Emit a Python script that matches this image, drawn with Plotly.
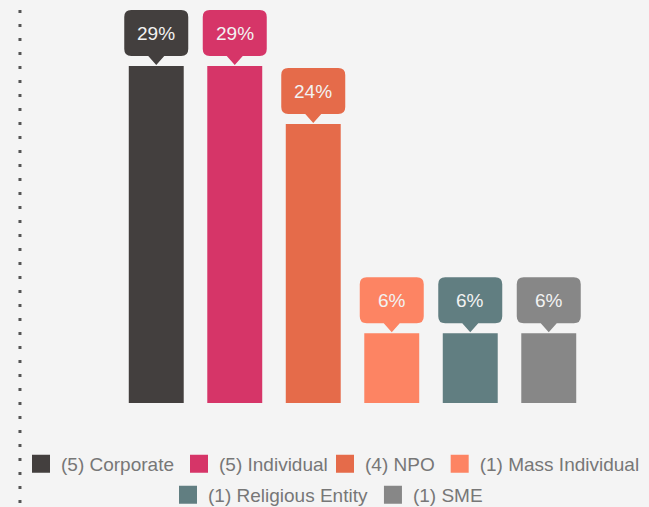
import plotly.graph_objects as go

categories = ['Corporate', 'Individual', 'NPO', 'Mass Individual', 'Religious Entity', 'SME']
counts = [5, 5, 4, 1, 1, 1]
percents = [29, 29, 24, 6, 6, 6]
colors = ['#433f3e', '#d63568', '#e56b4a', '#fd8463', '#617e81', '#878787']
legend_rows = ['legend', 'legend', 'legend3', 'legend3', 'legend2', 'legend2']

# rounded callout box with a pointer, in pixels relative to the top of each bar
callout = ('M 0,1 L -8,10 L -25,10 Q -32,10 -32,17 L -32,49 Q -32,56 -25,56 '
           'L 25,56 Q 32,56 32,49 L 32,17 Q 32,10 25,10 L 8,10 Z')

fig = go.Figure()
for cat, n, pct, color, leg in zip(categories, counts, percents, colors, legend_rows):
    fig.add_trace(go.Bar(
        x=[cat],
        y=[pct],
        width=0.7,
        marker=dict(color=color, line=dict(width=0)),
        hoverinfo='skip',
        showlegend=False
    ))
    # legend entry with a bigger square swatch
    fig.add_trace(go.Scatter(
        name='(%d) %s' % (n, cat),
        x=[None], y=[None],
        mode='markers',
        marker=dict(symbol='square', size=16, color=color, line=dict(color=color, width=2)),
        legend=leg
    ))
    fig.add_shape(type='path', path=callout, xref='x', yref='y',
                  xsizemode='pixel', ysizemode='pixel', xanchor=cat, yanchor=pct,
                  fillcolor=color, line=dict(width=0), layer='above')
    fig.add_annotation(x=cat, y=pct, text='%d%%' % pct, showarrow=False,
                       yanchor='middle', yshift=33,
                       font=dict(size=19, color='#f2f2f2'))

# dotted guide on the left
fig.add_shape(type='line', xref='paper', yref='paper', x0=-0.206, x1=-0.206, y0=0.975, y1=-0.26,
              line=dict(color='#555555', width=3, dash='3px,11px'))

legend_style = dict(orientation='h', xref='container', yref='container',
                    yanchor='middle', traceorder='normal',
                    font=dict(size=19, color='#777777'), bgcolor='rgba(0,0,0,0)',
                    itemclick=False, itemdoubleclick=False)

fig.update_layout(
    width=649, height=507,
    margin=dict(l=117, r=61, t=0, b=104, autoexpand=False),
    paper_bgcolor='#f4f4f4', plot_bgcolor='#f4f4f4',
    font=dict(family='Liberation Sans, Arial, sans-serif', color='#777777'),
    barmode='overlay',
    showlegend=True,
    legend=dict(legend_style, x=21 / 649, xanchor='left', y=1 - 464 / 507),
    legend3=dict(legend_style, x=325 / 649, xanchor='left', y=1 - 464 / 507),
    legend2=dict(legend_style, x=328 / 649, xanchor='center', y=1 - 495 / 507),
)
fig.update_xaxes(visible=False, range=[-0.5, 5.5])
fig.update_yaxes(visible=False, range=[0, 34.68])

fig.write_html("out.html", config={'displayModeBar': False},
               post_script="document.body.style.margin='0';")
